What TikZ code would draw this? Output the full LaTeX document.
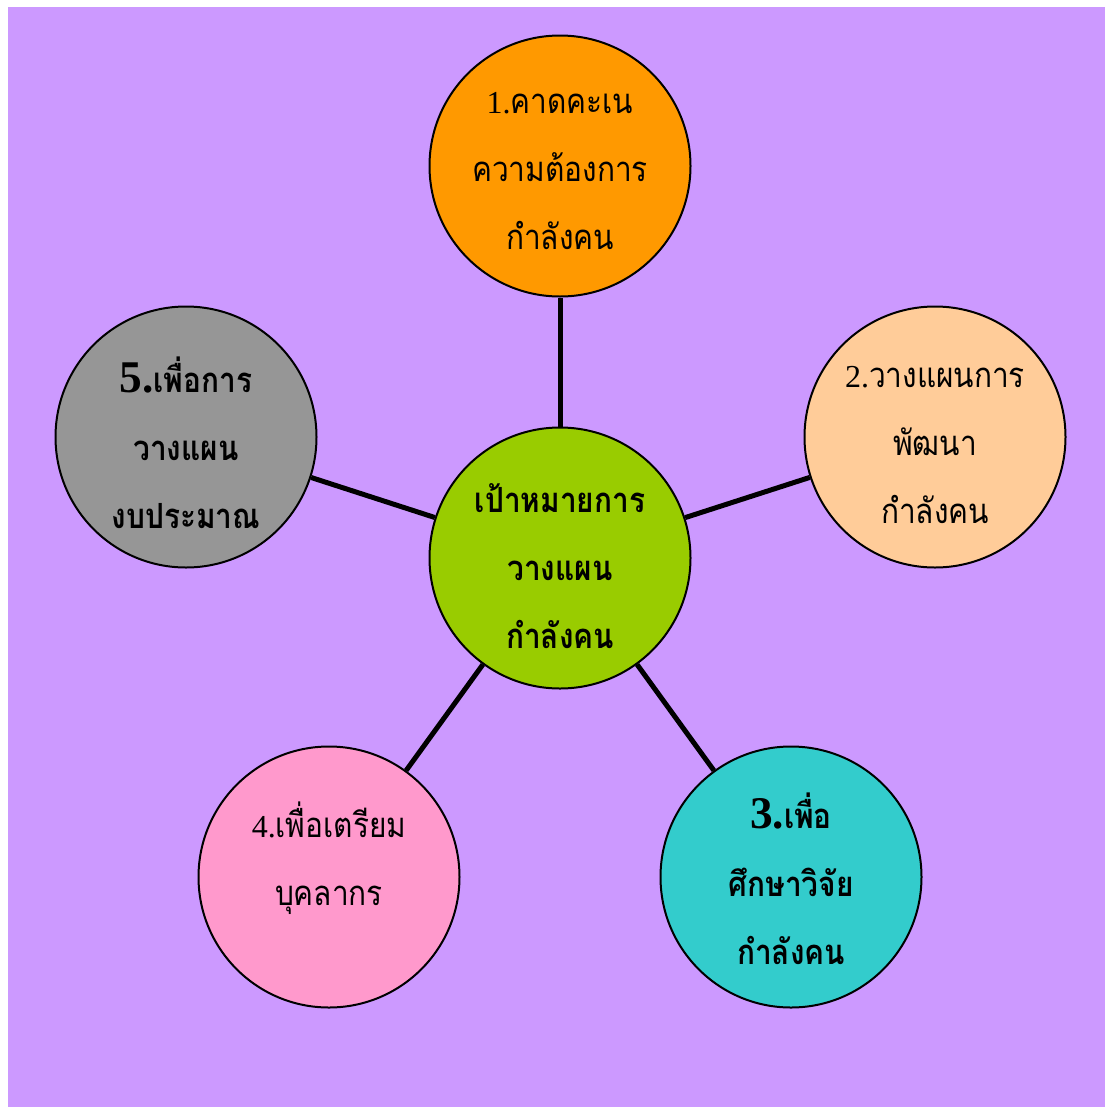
\documentclass[tikz,border=0pt]{standalone}
\usepackage{fontspec}
\newfontfamily\thai[Script=Thai, FakeStretch=0.86]{Loma}
\newfontfamily\ser{Liberation Serif}
\definecolor{bgpurple}{HTML}{CC99FF}
\definecolor{corange}{HTML}{FF9900}
\definecolor{cpeach}{HTML}{FFCC99}
\definecolor{cgray}{HTML}{969696}
\definecolor{cgreen}{HTML}{99CC00}
\definecolor{cteal}{HTML}{33CCCC}
\definecolor{cpink}{HTML}{FF99CC}
\tikzset{
  bubble/.style={circle, draw=black, line width=1.5pt, minimum size=195.75pt, inner sep=0pt},
  txt/.style={inner sep=0pt, align=center, font=\thai\fontsize{26pt}{51pt}\selectfont},
  txtb/.style={txt, font=\thai\bfseries\fontsize{26pt}{51pt}\selectfont},
  link/.style={line width=3.75pt, black}
}
\newcommand{\bignum}[1]{{\ser\bfseries\fontsize{34pt}{34pt}\selectfont #1}}
\newcommand{\num}[1]{{\ser\fontsize{24pt}{24pt}\selectfont #1}}
\begin{document}
\begin{tikzpicture}[x=0.75pt,y=-0.75pt]
\useasboundingbox (0,0) rectangle (1105,1107);
\fill[bgpurple] (8,7) rectangle (1105,1107);
\node[bubble, fill=cgreen] (c) at (560,558) {};
\node[bubble, fill=corange] (n1) at (560,166) {};
\node[bubble, fill=cpeach] (n2) at (935,437) {};
\node[bubble, fill=cteal] (n3) at (791,877) {};
\node[bubble, fill=cpink] (n4) at (329,877) {};
\node[bubble, fill=cgray] (n5) at (186,437) {};
\node[txtb] (tc) at ([yshift=-6pt]c.center) {เป้าหมายการ\\วางแผน\\กำลังคน};
\node[txt] (t1) at ([yshift=-4pt]n1.center) {\num{1.}คาดคะเน\\ความต้องการ\\กำลังคน};
\node[txt] (t2) at ([yshift=-6pt]n2.center) {\num{2.}วางแผนการ\\พัฒนา\\กำลังคน};
\node[txtb] (t3) at ([yshift=-1pt]n3.center) {\bignum{3.}เพื่อ\\ศึกษาวิจัย\\กำลังคน};
\node[txt] (t4) at ([yshift=14pt]n4.center) {\num{4.}เพื่อเตรียม\\บุคลากร};
\node[txtb] (t5) at ([yshift=-4pt]n5.center) {\bignum{5.}เพื่อการ\\วางแผน\\งบประมาณ};
\draw[link] (c) -- (n1);
\draw[link] (c) -- (n2);
\draw[link] (c) -- (n3);
\draw[link] (c) -- (n4);
\draw[link] (c) -- (n5);
\end{tikzpicture}
\end{document}
